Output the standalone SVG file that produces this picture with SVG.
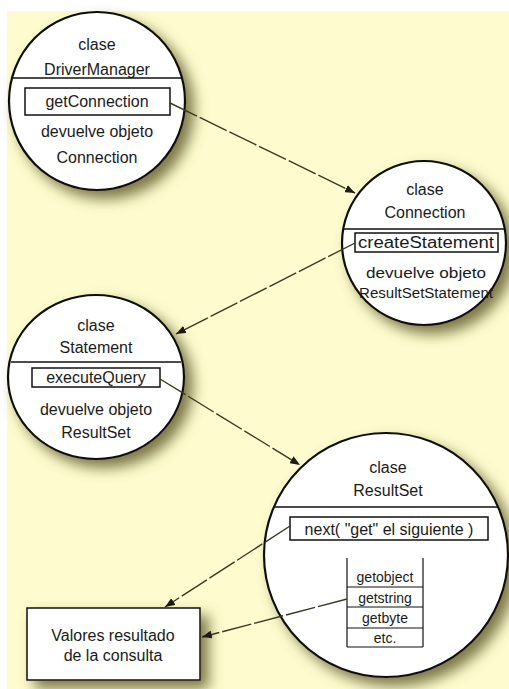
<svg xmlns="http://www.w3.org/2000/svg" width="509" height="689" viewBox="0 0 509 689">
  <defs>
    <style>
      .bg { fill: #FEFCCE; }
      .node { fill: #FFFFFF; stroke: #111111; stroke-width: 2.2; }
      .rule { stroke: #111111; stroke-width: 1.5; fill: none; }
      .box { fill: #FFFFFF; stroke: #111111; stroke-width: 1.5; }
      .cell { fill: none; stroke: #111111; stroke-width: 1.2; }
      text { font-family: "Liberation Sans", Arial, sans-serif; font-size: 16px; fill: #1a1a1a; text-anchor: middle; }
      .small { font-size: 14px; }
      .link { fill: none; stroke: #3a3820; stroke-width: 1.4; stroke-dasharray: 30 3; }
    </style>
    <filter id="shadow" x="-20%" y="-20%" width="150%" height="150%">
      <feGaussianBlur in="SourceAlpha" stdDeviation="7" result="b"/>
      <feOffset in="b" dx="8" dy="8" result="o"/>
      <feFlood flood-color="#5c5626" flood-opacity="0.8"/>
      <feComposite in2="o" operator="in" result="s"/>
      <feMerge>
        <feMergeNode in="s"/>
        <feMergeNode in="SourceGraphic"/>
      </feMerge>
    </filter>
    <marker id="arrow" viewBox="0 0 10 8" refX="10" refY="4" markerWidth="10" markerHeight="8" markerUnits="userSpaceOnUse" orient="auto">
      <path d="M0,0 L10,4 L0,8 Z" fill="#1e1c10"/>
    </marker>
  </defs>

  <!-- page -->
  <rect x="0" y="0" width="509" height="689" fill="#FFFFFF"/>
  <rect class="bg" x="7" y="11" width="502" height="678"/>

  <!-- DriverManager -->
  <g id="driver-manager">
    <ellipse class="node" cx="97" cy="101" rx="88" ry="89" filter="url(#shadow)"/>
    <text x="97" y="50">clase</text>
    <text x="97" y="75">DriverManager</text>
    <line class="rule" x1="12" y1="78" x2="182" y2="78"/>
    <rect class="box" x="25" y="88" width="145" height="27"/>
    <text x="97" y="107">getConnection</text>
    <text x="97" y="137">devuelve objeto</text>
    <text x="97" y="163">Connection</text>
  </g>

  <!-- Connection -->
  <g id="connection">
    <circle class="node" cx="424" cy="243" r="82" filter="url(#shadow)"/>
    <text x="425" y="195">clase</text>
    <text x="425" y="218">Connection</text>
    <line class="rule" x1="343" y1="229" x2="505" y2="229"/>
    <rect class="box" x="355" y="233" width="143" height="19"/>
    <text x="426" y="248" textLength="136" lengthAdjust="spacingAndGlyphs">createStatement</text>
    <text x="426" y="278" class="small" textLength="120" lengthAdjust="spacingAndGlyphs">devuelve objeto</text>
    <text x="426" y="298" class="small" textLength="134" lengthAdjust="spacingAndGlyphs">ResultSetStatement</text>
  </g>

  <!-- Statement -->
  <g id="statement">
    <ellipse class="node" cx="96" cy="377" rx="88" ry="82" filter="url(#shadow)"/>
    <text x="96" y="331">clase</text>
    <text x="96" y="353">Statement</text>
    <line class="rule" x1="11" y1="362" x2="181" y2="362"/>
    <rect class="box" x="32" y="368" width="128" height="19"/>
    <text x="96" y="383">executeQuery</text>
    <text x="96" y="415">devuelve objeto</text>
    <text x="96" y="438">ResultSet</text>
  </g>

  <!-- ResultSet -->
  <g id="result-set">
    <circle class="node" cx="386" cy="555" r="122" filter="url(#shadow)"/>
    <text x="388" y="473">clase</text>
    <text x="388" y="496">ResultSet</text>
    <line class="rule" x1="274" y1="507" x2="498" y2="507"/>
    <rect class="box" x="290" y="517" width="198" height="23"/>
    <text x="389" y="535">next( "get" el siguiente )</text>
    <!-- getter table -->
    <line class="cell" x1="347" y1="558" x2="347" y2="647"/>
    <line class="cell" x1="423" y1="558" x2="423" y2="647"/>
    <line class="cell" x1="347" y1="587" x2="423" y2="587"/>
    <line class="cell" x1="347" y1="607" x2="423" y2="607"/>
    <line class="cell" x1="347" y1="628" x2="423" y2="628"/>
    <line class="cell" x1="347" y1="647" x2="423" y2="647"/>
    <text class="small" x="385" y="582">getobject</text>
    <text class="small" x="385" y="603">getstring</text>
    <text class="small" x="385" y="623">getbyte</text>
    <text class="small" x="385" y="643">etc.</text>
  </g>

  <!-- Result values -->
  <g id="valores">
    <rect class="box" x="27" y="608" width="173" height="72" filter="url(#shadow)"/>
    <text x="113" y="641">Valores resultado</text>
    <text x="113" y="661">de la consulta</text>
  </g>

  <!-- connectors -->
  <g id="connectors">
    <line class="link" x1="170" y1="103" x2="355" y2="193" marker-end="url(#arrow)"/>
    <line class="link" x1="355" y1="243" x2="176" y2="334" marker-end="url(#arrow)"/>
    <line class="link" x1="160" y1="379" x2="300" y2="465" marker-end="url(#arrow)"/>
    <line class="link" x1="290" y1="526" x2="165" y2="607" marker-end="url(#arrow)"/>
    <line class="link" x1="347" y1="599" x2="202" y2="637" marker-end="url(#arrow)"/>
  </g>
</svg>
